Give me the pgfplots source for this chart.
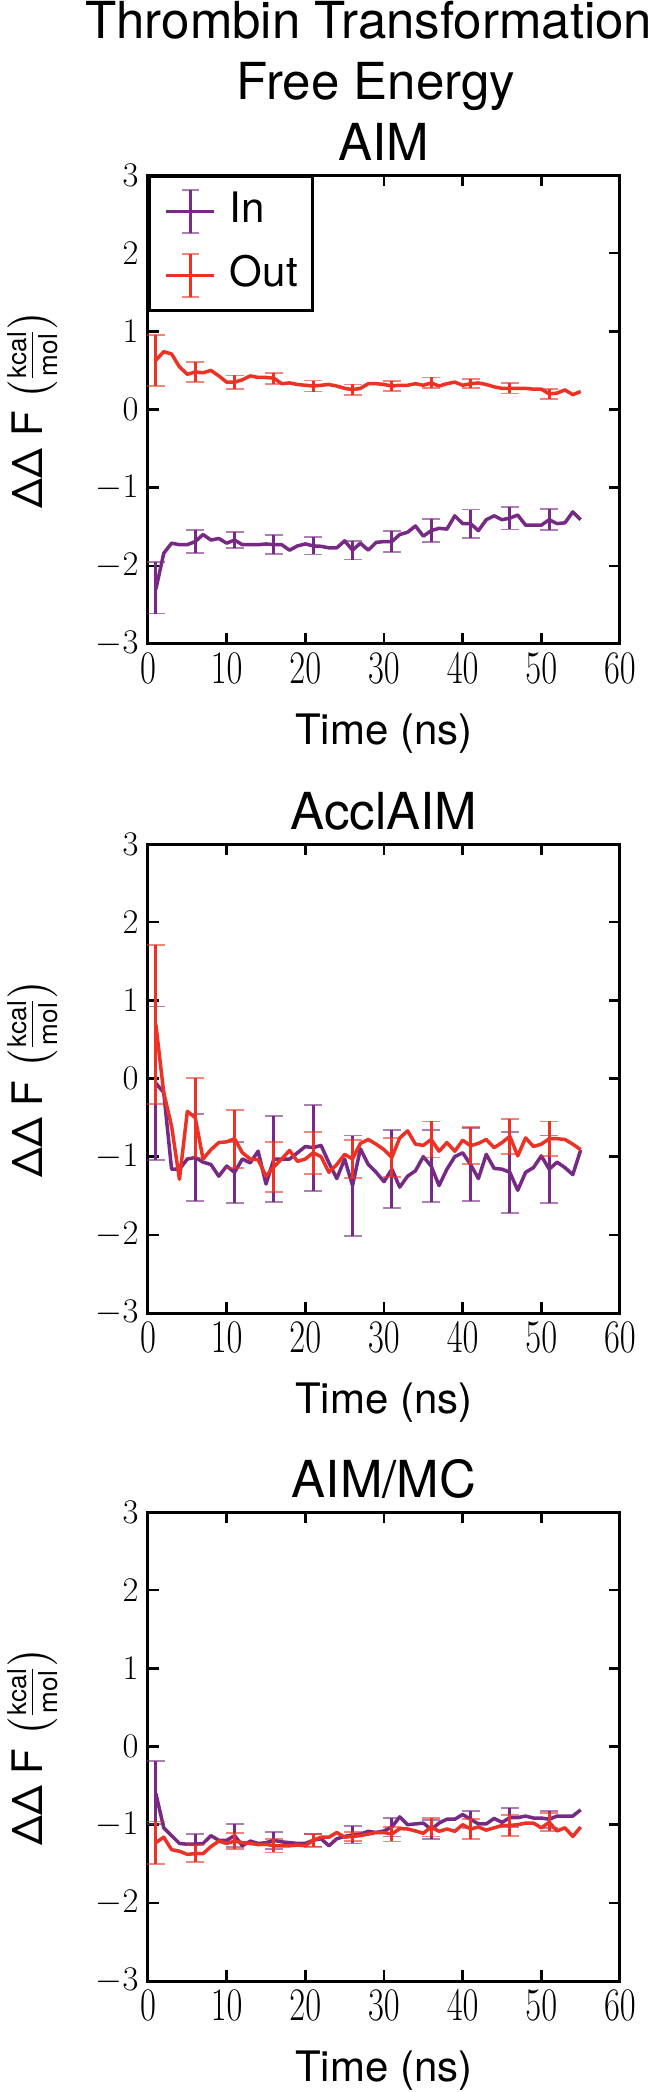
\documentclass[border=0pt]{standalone}
\usepackage{pgfplots}
\pgfplotsset{compat=1.18}
\usepackage{pgfplotstable}
\usepackage{amsmath}
\usepackage{fontspec}
\setmainfont{TeX Gyre Heros}
\definecolor{cin}{RGB}{118,42,131}
\definecolor{cout}{RGB}{236,50,36}

% ---------- Panel 1: AIM ----------
\pgfplotstableread{
x y
1 -2.30
2 -1.84
3 -1.71
4 -1.73
5 -1.73
6 -1.69
7 -1.60
8 -1.67
9 -1.65
10 -1.71
11 -1.67
12 -1.73
13 -1.73
14 -1.73
15 -1.72
16 -1.73
17 -1.73
18 -1.80
19 -1.745
20 -1.72
21 -1.745
22 -1.75
23 -1.77
24 -1.77
25 -1.68
26 -1.80
27 -1.71
28 -1.80
29 -1.70
30 -1.69
31 -1.69
32 -1.60
33 -1.57
34 -1.49
35 -1.62
36 -1.55
37 -1.52
38 -1.53
39 -1.36
40 -1.46
41 -1.46
42 -1.55
43 -1.41
44 -1.36
45 -1.41
46 -1.39
47 -1.35
48 -1.48
49 -1.48
50 -1.48
51 -1.41
52 -1.46
53 -1.45
54 -1.31
55 -1.41
}\PoneIn
\pgfplotstableread{
x y e
1 -2.28 0.33
6 -1.69 0.15
11 -1.67 0.10
16 -1.73 0.12
21 -1.745 0.11
26 -1.80 0.12
31 -1.69 0.135
36 -1.55 0.15
41 -1.46 0.18
46 -1.39 0.145
51 -1.41 0.135
}\PoneInErr
\pgfplotstableread{
x y
1 0.63
2 0.74
3 0.71
4 0.545
5 0.45
6 0.48
7 0.47
8 0.50
9 0.43
10 0.35
11 0.35
12 0.38
13 0.43
14 0.41
15 0.41
16 0.40
17 0.33
18 0.34
19 0.32
20 0.31
21 0.30
22 0.31
23 0.32
24 0.30
25 0.27
26 0.255
27 0.27
28 0.33
29 0.33
30 0.32
31 0.30
32 0.31
33 0.31
34 0.33
35 0.31
36 0.34
37 0.30
38 0.33
39 0.35
40 0.31
41 0.33
42 0.34
43 0.32
44 0.29
45 0.27
46 0.27
47 0.27
48 0.27
49 0.26
50 0.26
51 0.20
52 0.21
53 0.25
54 0.19
55 0.23
}\PoneOut
\pgfplotstableread{
x y e
1 0.625 0.325
6 0.48 0.13
11 0.35 0.085
16 0.40 0.07
21 0.30 0.07
26 0.255 0.065
31 0.30 0.065
36 0.34 0.07
41 0.33 0.06
46 0.27 0.065
51 0.20 0.065
}\PoneOutErr

% ---------- Panel 2: AcclAIM ----------
\pgfplotstableread{
x y
1 -0.06
2 -0.18
3 -1.16
4 -1.16
5 -1.03
6 -1.01
7 -1.07
8 -1.10
9 -1.25
10 -1.12
11 -1.20
12 -1.03
13 -1.08
14 -0.93
15 -1.35
16 -1.03
17 -1.03
18 -1.03
19 -0.95
20 -0.87
21 -0.885
22 -0.855
23 -1.08
24 -1.28
25 -1.03
26 -1.37
27 -0.90
28 -1.10
29 -1.20
30 -1.32
31 -1.16
32 -1.39
33 -1.25
34 -1.18
35 -1.00
36 -1.12
37 -1.37
38 -1.16
39 -1.00
40 -0.95
41 -1.10
42 -1.28
43 -0.97
44 -1.15
45 -1.16
46 -1.20
47 -1.43
48 -1.20
49 -1.14
50 -0.99
51 -1.16
52 -1.07
53 -1.14
54 -1.23
55 -0.915
}\PtwoIn
\pgfplotstableread{
x y e
1 -0.06 0.98
6 -1.01 0.56
11 -1.20 0.39
16 -1.03 0.55
21 -0.885 0.55
26 -1.37 0.64
31 -1.16 0.50
36 -1.12 0.46
41 -1.10 0.47
46 -1.20 0.52
51 -1.16 0.43
}\PtwoInErr
\pgfplotstableread{
x y
1 0.69
2 -0.18
3 -0.61
4 -1.29
5 -0.42
6 -0.50
7 -1.03
8 -0.91
9 -0.82
10 -0.81
11 -0.77
12 -0.95
13 -1.03
14 -1.04
15 -1.25
16 -1.13
17 -1.03
18 -0.92
19 -1.06
20 -1.03
21 -0.95
22 -1.00
23 -1.20
24 -1.10
25 -0.97
26 -1.03
27 -0.83
28 -0.78
29 -0.84
30 -0.91
31 -1.01
32 -0.76
33 -0.67
34 -0.84
35 -0.855
36 -0.78
37 -0.93
38 -0.82
39 -0.93
40 -0.79
41 -0.86
42 -0.83
43 -0.78
44 -0.885
45 -0.82
46 -0.74
47 -0.99
48 -0.76
49 -0.87
50 -0.84
51 -0.77
52 -0.77
53 -0.78
54 -0.84
55 -0.91
}\PtwoOut
\pgfplotstableread{
x y e
1 0.69 1.02
6 -0.50 0.51
11 -0.77 0.37
16 -1.13 0.32
21 -0.95 0.27
26 -1.03 0.24
31 -1.01 0.245
36 -0.78 0.23
41 -0.86 0.235
46 -0.74 0.225
51 -0.77 0.22
}\PtwoOutErr

% ---------- Panel 3: AIM/MC ----------
\pgfplotstableread{
x y
1 -0.60
2 -1.04
3 -1.14
4 -1.24
5 -1.25
6 -1.25
7 -1.24
8 -1.14
9 -1.20
10 -1.20
11 -1.14
12 -1.27
13 -1.21
14 -1.24
15 -1.23
16 -1.20
17 -1.22
18 -1.23
19 -1.24
20 -1.24
21 -1.20
22 -1.18
23 -1.27
24 -1.18
25 -1.15
26 -1.13
27 -1.12
28 -1.085
29 -1.10
30 -1.08
31 -1.03
32 -0.90
33 -1.00
34 -0.99
35 -0.98
36 -1.06
37 -0.98
38 -0.93
39 -0.93
40 -0.87
41 -0.93
42 -0.99
43 -0.99
44 -0.92
45 -0.97
46 -0.91
47 -0.91
48 -0.89
49 -0.915
50 -0.915
51 -0.93
52 -0.89
53 -0.89
54 -0.89
55 -0.81
}\PthreeIn
\pgfplotstableread{
x y e
1 -0.59 0.40
6 -1.25 0.13
11 -1.14 0.15
16 -1.20 0.11
21 -1.20 0.08
26 -1.13 0.11
31 -1.03 0.12
36 -1.06 0.12
41 -0.93 0.11
46 -0.91 0.12
51 -0.93 0.11
}\PthreeInErr
\pgfplotstableread{
x y
1 -1.23
2 -1.16
3 -1.32
4 -1.34
5 -1.38
6 -1.37
7 -1.37
8 -1.28
9 -1.21
10 -1.24
11 -1.21
12 -1.23
13 -1.24
14 -1.255
15 -1.25
16 -1.27
17 -1.27
18 -1.27
19 -1.26
20 -1.27
21 -1.20
22 -1.16
23 -1.16
24 -1.10
25 -1.16
26 -1.15
27 -1.14
28 -1.12
29 -1.10
30 -1.10
31 -1.12
32 -1.05
33 -1.055
34 -1.08
35 -1.11
36 -1.03
37 -1.085
38 -1.055
39 -1.085
40 -1.00
41 -1.055
42 -1.03
43 -1.07
44 -1.04
45 -1.01
46 -1.01
47 -1.00
48 -0.98
49 -0.98
50 -1.04
51 -0.97
52 -1.08
53 -1.04
54 -1.15
55 -1.03
}\PthreeOut
\pgfplotstableread{
x y e
1 -1.23 0.27
6 -1.37 0.11
11 -1.21 0.10
16 -1.27 0.085
21 -1.20 0.085
26 -1.15 0.06
31 -1.12 0.095
36 -1.03 0.12
41 -1.055 0.13
46 -1.01 0.13
51 -0.97 0.115
}\PthreeOutErr

\newcommand{\smallunit}[1]{\mbox{\fontsize{13}{13}\selectfont #1}}

\pgfplotsset{
  panel/.style={
    scale only axis, width=236pt, height=234.5pt,
    anchor=north west,
    xmin=0, xmax=60, ymin=-3, ymax=3,
    xtick={0,10,...,60}, ytick={-3,-2,...,3},
    minor tick num=0,
    tick align=inside, major tick length=5.5pt,
    axis line style={line width=1.5pt},
    every tick/.style={black, line width=1.2pt},
    xticklabel style={font=\fontsize{17.5}{17.5}\selectfont, yscale=1.35},
    yticklabel style={font=\fontsize{17.5}{17.5}\selectfont, xshift=-1.2pt},
    every axis title shift=0pt,
    title style={font=\fontsize{25.5}{30}\selectfont, at={(axis description cs:0.5,1)}, anchor=base, yshift=7.5pt},
    xlabel={Time (ns)},
    ylabel={ΔΔ F $\bigl(\frac{\smallunit{kcal}}{\smallunit{mol}}\bigr)$},
    label style={font=\fontsize{21}{25}\selectfont},
    xlabel style={at={(axis description cs:0.5,0)}, anchor=center, yshift=-45pt},
    ylabel style={at={(axis description cs:-0.2227,0.5)}, anchor=base, inner sep=0pt},
    clip=false,
  },
  lin/.style={color=#1, line width=1.75pt, mark=none, line join=round,
    legend image code/.code={
      \draw[line width=1.75pt] (0pt,0pt) -- (24pt,0pt);
      \draw[overlay, line width=1.4pt] (12pt,-10.75pt) -- (12pt,10.75pt);
      \draw[overlay, line width=0.9pt, draw opacity=0.6] (7.75pt,-10.75pt) -- (16.25pt,-10.75pt);
      \draw[overlay, line width=0.9pt, draw opacity=0.6] (7.75pt,10.75pt) -- (16.25pt,10.75pt);
    }},
  err/.style={draw=none, forget plot, mark=none,
    error bars/.cd, y dir=both, y explicit,
    error bar style={draw=#1, line width=1.5pt, solid},
    error mark=-,
    error mark options={rotate=90, draw=#1, draw opacity=0.6, line width=0.9pt, mark size=4.5pt}},
}

\begin{document}
\begin{tikzpicture}
\useasboundingbox (0,0) rectangle (329.5pt,-1046pt);
\node[anchor=base west, font=\fontsize{25.5}{30}\selectfont, inner sep=0pt] at (42.5pt,-19.5pt) {Thrombin Transformation};
\node[anchor=base, font=\fontsize{25.5}{30}\selectfont, inner sep=0pt] at (188pt,-50pt) {Free Energy};

\begin{axis}[panel, at={(74pt,-87.5pt)}, title={AIM},
  legend cell align=left,
  legend style={at={(axis description cs:0,1)}, anchor=north west,
    draw=black, line width=1.5pt, inner xsep=7.5pt, inner ysep=8pt,
    font=\fontsize{21}{25}\selectfont, row sep=13pt,
    nodes={inner sep=0pt, text height=15pt, text depth=4pt},
    /tikz/every odd column/.append style={column sep=7pt}}]
\addplot[lin=cin] table[x=x,y=y] {\PoneIn}; \addlegendentry{In}
\addplot[err=cin] table[x=x,y=y,y error=e] {\PoneInErr};
\addplot[lin=cout] table[x=x,y=y] {\PoneOut}; \addlegendentry{Out}
\addplot[err=cout] table[x=x,y=y,y error=e] {\PoneOutErr};
\end{axis}

\begin{axis}[panel, at={(74pt,-422pt)}, title={AcclAIM}]
\addplot[lin=cin] table[x=x,y=y] {\PtwoIn};
\addplot[err=cin] table[x=x,y=y,y error=e] {\PtwoInErr};
\addplot[lin=cout] table[x=x,y=y] {\PtwoOut};
\addplot[err=cout] table[x=x,y=y,y error=e] {\PtwoOutErr};
\end{axis}

\begin{axis}[panel, at={(74pt,-756pt)}, title={AIM/MC}]
\addplot[lin=cin] table[x=x,y=y] {\PthreeIn};
\addplot[err=cin] table[x=x,y=y,y error=e] {\PthreeInErr};
\addplot[lin=cout] table[x=x,y=y] {\PthreeOut};
\addplot[err=cout] table[x=x,y=y,y error=e] {\PthreeOutErr};
\end{axis}
\end{tikzpicture}
\end{document}
